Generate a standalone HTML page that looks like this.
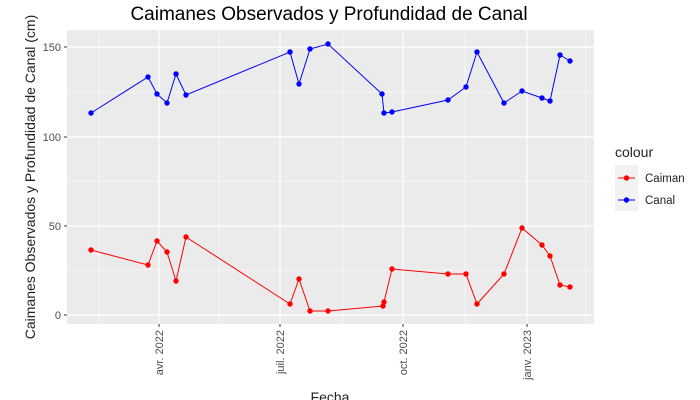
<!DOCTYPE html>
<html><head><meta charset="utf-8"><style>
body{margin:0;background:#fff;}
svg{display:block;font-family:"Liberation Sans",Arial,sans-serif;}
</style></head><body>
<svg width="700" height="400" viewBox="0 0 700 400" xmlns="http://www.w3.org/2000/svg">
<rect width="700" height="400" fill="#fff"/>
<rect x="67" y="30" width="527" height="294" fill="#ebebeb"/>
<g stroke="#fff" stroke-width="0.6">
<line x1="67" x2="594" y1="92" y2="92"/><line x1="67" x2="594" y1="181" y2="181"/><line x1="67" x2="594" y1="270" y2="270"/>
<line x1="99" x2="99" y1="30" y2="324"/><line x1="219" x2="219" y1="30" y2="324"/><line x1="343" x2="343" y1="30" y2="324"/><line x1="465" x2="465" y1="30" y2="324"/><line x1="586" x2="586" y1="30" y2="324"/>
</g>
<g stroke="#fff" stroke-width="1.2">
<line x1="67" x2="594" y1="47" y2="47"/><line x1="67" x2="594" y1="137" y2="137"/><line x1="67" x2="594" y1="226" y2="226"/><line x1="67" x2="594" y1="315" y2="315"/>
<line x1="159" x2="159" y1="30" y2="324"/><line x1="280" x2="280" y1="30" y2="324"/><line x1="403" x2="403" y1="30" y2="324"/><line x1="527" x2="527" y1="30" y2="324"/>
</g>
<g stroke="#333" stroke-width="1">
<line x1="64" x2="67" y1="47" y2="47"/><line x1="64" x2="67" y1="137" y2="137"/><line x1="64" x2="67" y1="226" y2="226"/><line x1="64" x2="67" y1="315" y2="315"/>
<line x1="159" x2="159" y1="324" y2="327"/><line x1="280" x2="280" y1="324" y2="327"/><line x1="403" x2="403" y1="324" y2="327"/><line x1="527" x2="527" y1="324" y2="327"/>
</g>
<g font-size="11" fill="#4d4d4d" text-anchor="end">
<text x="61" y="51">150</text><text x="61" y="141">100</text><text x="61" y="230">50</text><text x="61" y="319">0</text>
</g>
<g font-size="11" fill="#4d4d4d" text-anchor="end">
<text transform="translate(163,330) rotate(-90)">avr. 2022</text>
<text transform="translate(284,330) rotate(-90)">juil. 2022</text>
<text transform="translate(407,330) rotate(-90)">oct. 2022</text>
<text transform="translate(531,330) rotate(-90)">janv. 2023</text>
</g>
<polyline fill="none" stroke="#0000ff" stroke-width="1" points="91,113 148,77 157,94 167,103 176,74 186,95 290,52 299,84 310,49 328,44 382,94 384,113 392,112 448,100 466,87 477,52 504,103 522,91 542,98 550,101 560,55 570,61"/>
<g fill="#0000ff"><circle cx="91" cy="113" r="2.7"/><circle cx="148" cy="77" r="2.7"/><circle cx="157" cy="94" r="2.7"/><circle cx="167" cy="103" r="2.7"/><circle cx="176" cy="74" r="2.7"/><circle cx="186" cy="95" r="2.7"/><circle cx="290" cy="52" r="2.7"/><circle cx="299" cy="84" r="2.7"/><circle cx="310" cy="49" r="2.7"/><circle cx="328" cy="44" r="2.7"/><circle cx="382" cy="94" r="2.7"/><circle cx="384" cy="113" r="2.7"/><circle cx="392" cy="112" r="2.7"/><circle cx="448" cy="100" r="2.7"/><circle cx="466" cy="87" r="2.7"/><circle cx="477" cy="52" r="2.7"/><circle cx="504" cy="103" r="2.7"/><circle cx="522" cy="91" r="2.7"/><circle cx="542" cy="98" r="2.7"/><circle cx="550" cy="101" r="2.7"/><circle cx="560" cy="55" r="2.7"/><circle cx="570" cy="61" r="2.7"/></g>
<polyline fill="none" stroke="#ff0000" stroke-width="1" points="91,250 148,265 157,241 167,252 176,281 186,237 290,304 299,279 310,311 328,311 383,306 384,302 392,269 448,274 466,274 477,304 504,274 522,228 542,245 550,256 560,285 570,287"/>
<g fill="#ff0000"><circle cx="91" cy="250" r="2.7"/><circle cx="148" cy="265" r="2.7"/><circle cx="157" cy="241" r="2.7"/><circle cx="167" cy="252" r="2.7"/><circle cx="176" cy="281" r="2.7"/><circle cx="186" cy="237" r="2.7"/><circle cx="290" cy="304" r="2.7"/><circle cx="299" cy="279" r="2.7"/><circle cx="310" cy="311" r="2.7"/><circle cx="328" cy="311" r="2.7"/><circle cx="383" cy="306" r="2.7"/><circle cx="384" cy="302" r="2.7"/><circle cx="392" cy="269" r="2.7"/><circle cx="448" cy="274" r="2.7"/><circle cx="466" cy="274" r="2.7"/><circle cx="477" cy="304" r="2.7"/><circle cx="504" cy="274" r="2.7"/><circle cx="522" cy="228" r="2.7"/><circle cx="542" cy="245" r="2.7"/><circle cx="550" cy="256" r="2.7"/><circle cx="560" cy="285" r="2.7"/><circle cx="570" cy="287" r="2.7"/></g>
<text x="329" y="20" font-size="19" fill="#000" text-anchor="middle">Caimanes Observados y Profundidad de Canal</text>
<text transform="translate(35,177) rotate(-90)" font-size="14" fill="#222" text-anchor="middle">Caimanes Observados y Profundidad de Canal (cm)</text>
<text x="330" y="402" font-size="14" fill="#222" text-anchor="middle">Fecha</text>
<text x="615" y="157" font-size="14" fill="#222">colour</text>
<rect x="615" y="165" width="23" height="46" fill="#f2f2f2"/>
<line x1="618" x2="635" y1="178" y2="178" stroke="#ff0000"/><circle cx="626.5" cy="178" r="2.7" fill="#ff0000"/>
<line x1="618" x2="635" y1="200" y2="200" stroke="#0000ff"/><circle cx="626.5" cy="200" r="2.7" fill="#0000ff"/>
<text x="645" y="182" font-size="11.5" fill="#222">Caiman</text>
<text x="645" y="204" font-size="11.5" fill="#222">Canal</text>
</svg>
</body></html>
